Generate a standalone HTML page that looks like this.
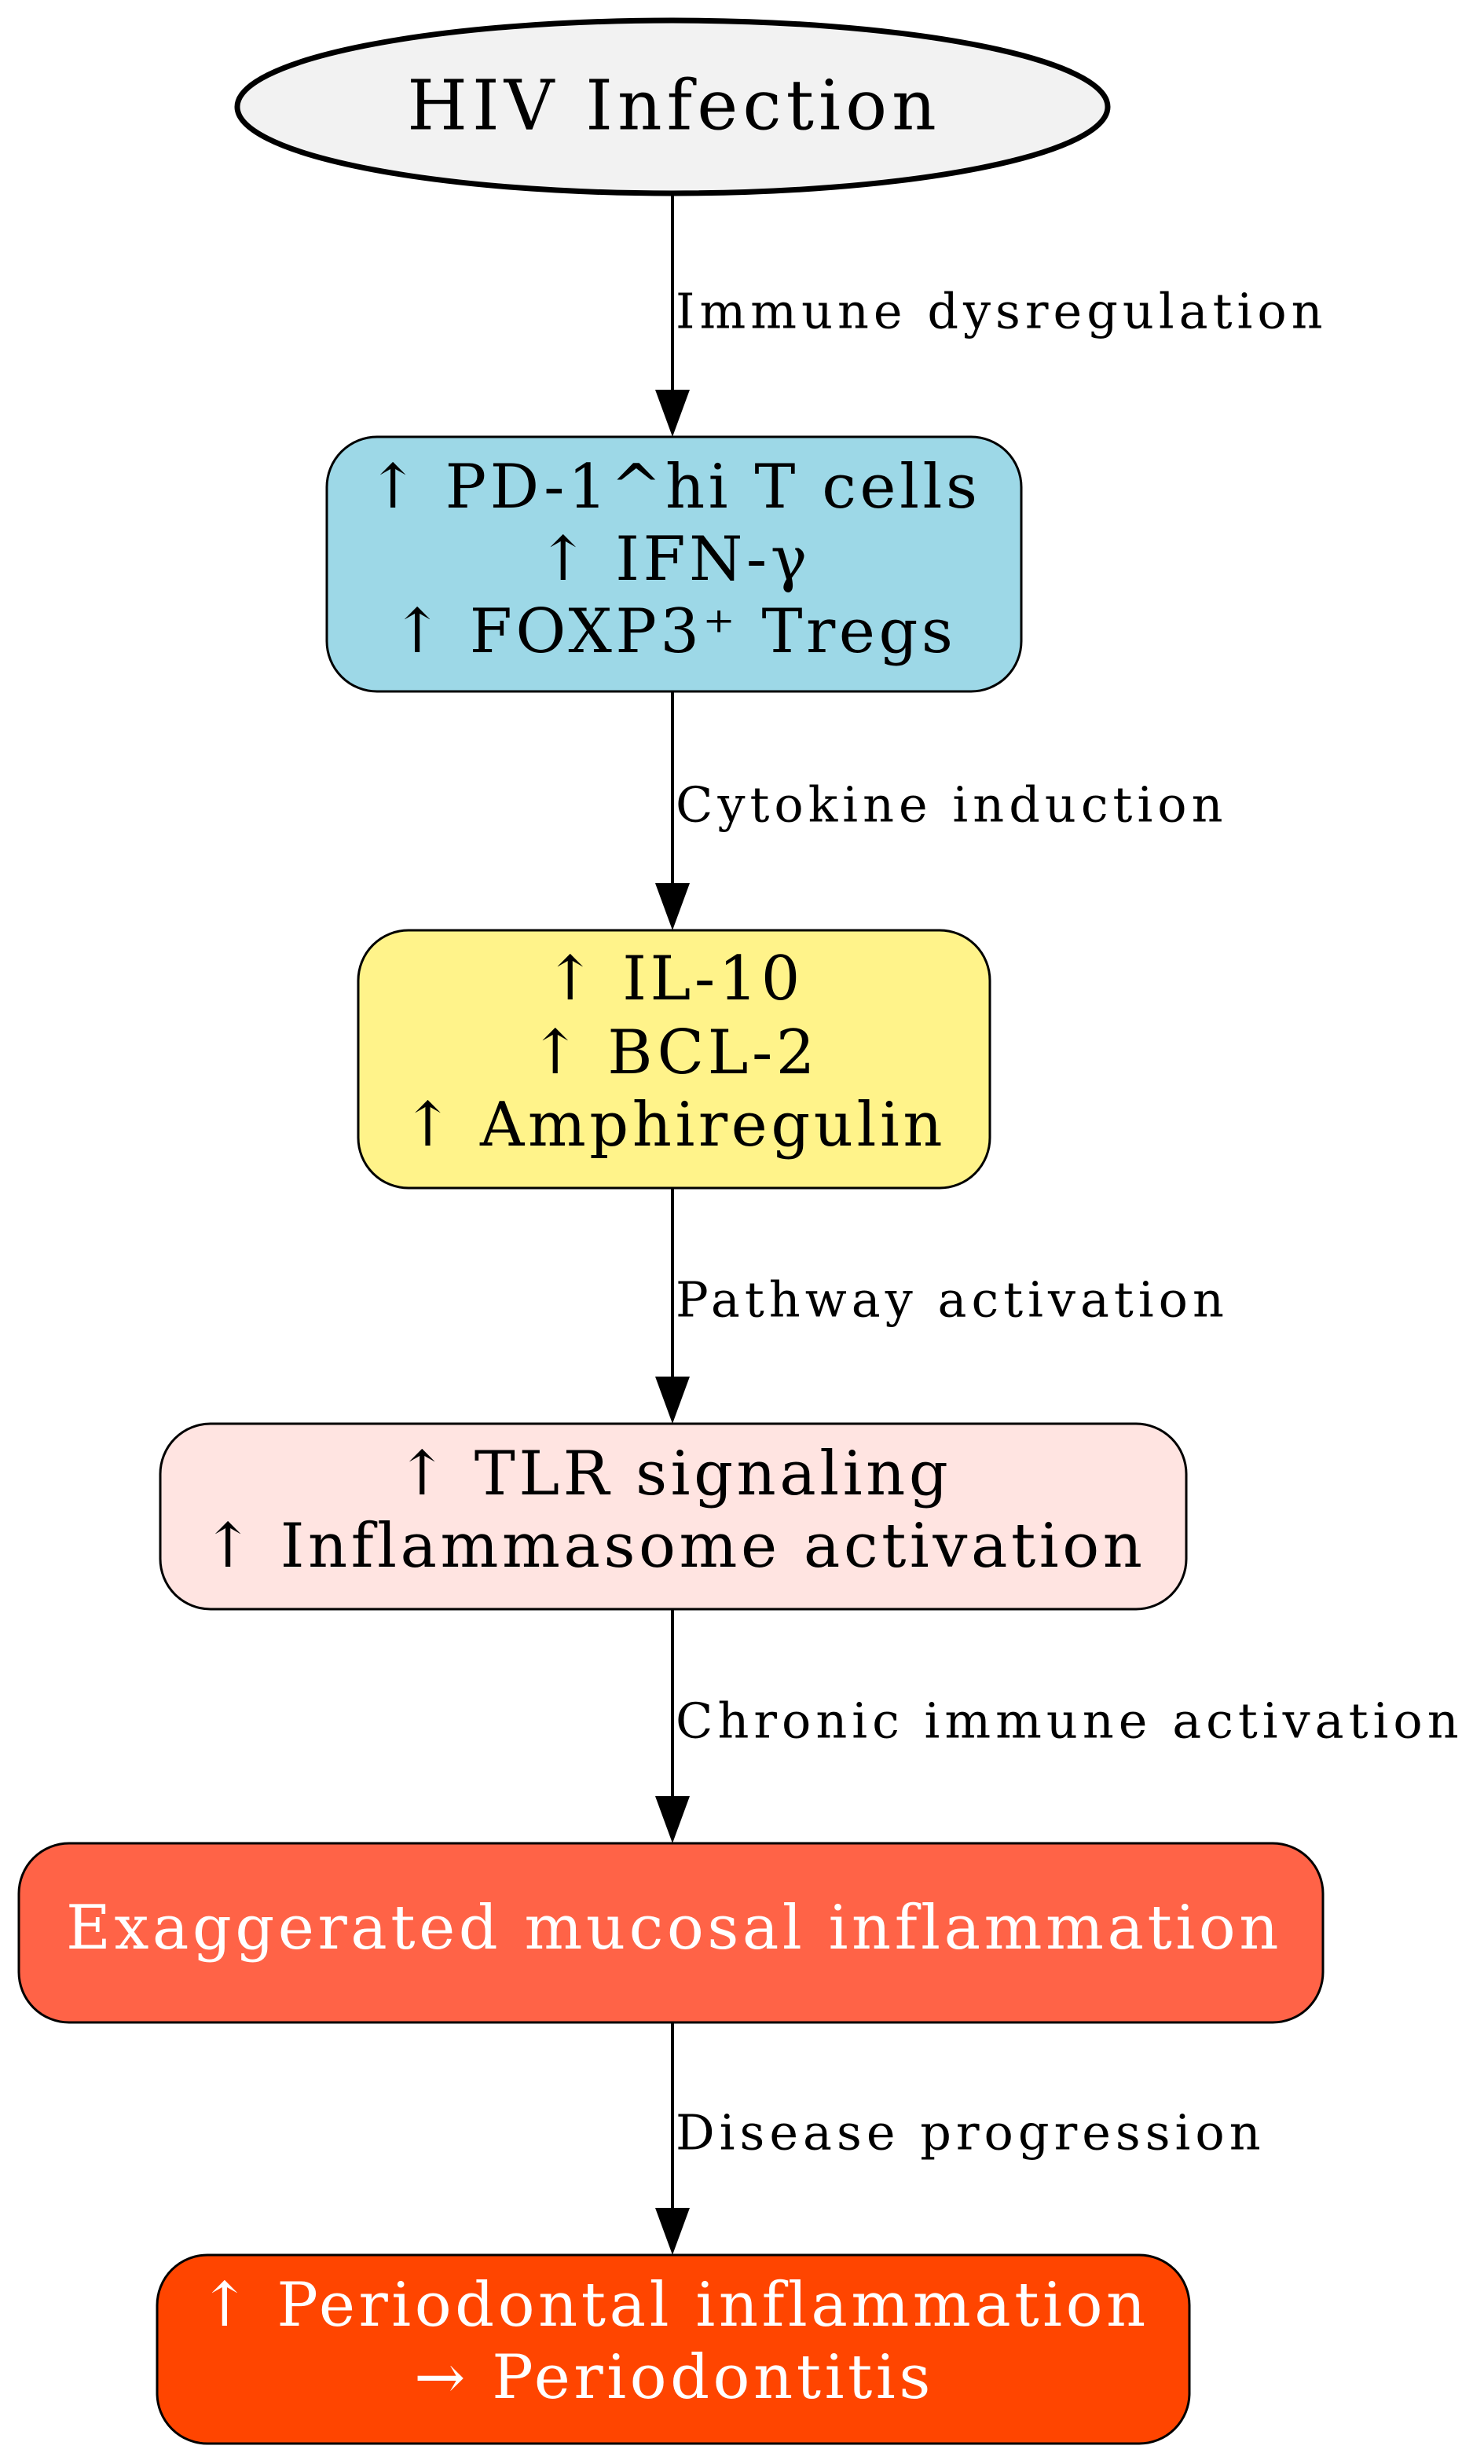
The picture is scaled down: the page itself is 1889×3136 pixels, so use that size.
<!DOCTYPE html>
<html><head><meta charset="utf-8"><style>
html,body{margin:0;padding:0;background:#fff;}
svg{display:block;}
.n{font-family:"DejaVu Serif","Liberation Serif",serif;font-size:78px;letter-spacing:4.5px;}
.e{font-family:"DejaVu Serif","Liberation Serif",serif;font-size:62px;letter-spacing:6px;}
</style></head><body>
<svg width="1889" height="3136" viewBox="0 0 1889 3136" xmlns="http://www.w3.org/2000/svg">
<g stroke="#000" stroke-width="4" fill="none">
<line x1="856" y1="248" x2="856" y2="496"/>
<line x1="856" y1="880" x2="856" y2="1124"/>
<line x1="856" y1="1512" x2="856" y2="1752"/>
<line x1="856" y1="2048" x2="856" y2="2286"/>
<line x1="856" y1="2574" x2="856" y2="2810"/>
</g>
<g fill="#000">
<path d="M834,496 L878,496 L856,556 z"/>
<path d="M834,1124 L878,1124 L856,1184 z"/>
<path d="M834,1752 L878,1752 L856,1812 z"/>
<path d="M834,2286 L878,2286 L856,2346 z"/>
<path d="M834,2810 L878,2810 L856,2870 z"/>
</g>
<ellipse cx="856" cy="136" rx="554" ry="110" fill="#f2f2f2" stroke="#000" stroke-width="7"/>
<rect x="416" y="556" width="884" height="324" rx="64" fill="#9dd8e7" stroke="#000" stroke-width="3"/>
<rect x="456" y="1184" width="804" height="328" rx="64" fill="#fff38a" stroke="#000" stroke-width="3"/>
<rect x="204" y="1812" width="1306" height="236" rx="64" fill="#ffe4e1" stroke="#000" stroke-width="3"/>
<rect x="24" y="2346" width="1660" height="228" rx="64" fill="#ff6347" stroke="#000" stroke-width="3"/>
<rect x="200" y="2870" width="1314" height="240" rx="64" fill="#ff4500" stroke="#000" stroke-width="3"/>
<g class="n" text-anchor="middle" dominant-baseline="central" fill="#000">
<text x="858" y="134" font-size="88" letter-spacing="6">HIV Infection</text>
<text x="858" y="620">↑ PD-1^hi T cells</text>
<text x="858" y="712">↑ IFN-γ</text>
<text x="858" y="804">↑ FOXP3⁺ Tregs</text>
<text x="858" y="1246">↑ IL-10</text>
<text x="858" y="1340">↑ BCL-2</text>
<text x="858" y="1432">↑ Amphiregulin</text>
<text x="858" y="1876">↑ TLR signaling</text>
<text x="858" y="1968">↑ Inflammasome activation</text>
<text x="858" y="2454" fill="#fff">Exaggerated mucosal inflammation</text>
<text x="858" y="2934" fill="#fff">↑ Periodontal inflammation</text>
<text x="858" y="3026" fill="#fff">→ Periodontitis</text>
</g>
<g class="e" dominant-baseline="central" fill="#000">
<text x="860" y="396">Immune dysregulation</text>
<text x="860" y="1024">Cytokine induction</text>
<text x="860" y="1654">Pathway activation</text>
<text x="860" y="2190">Chronic immune activation</text>
<text x="860" y="2714">Disease progression</text>
</g>
</svg>
</body></html>
